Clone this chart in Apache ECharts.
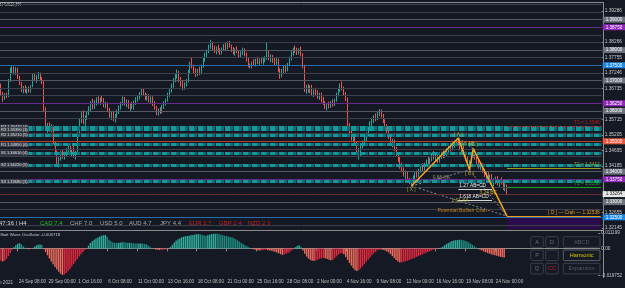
<!DOCTYPE html>
<html><head><meta charset="utf-8">
<script src="https://cdn.jsdelivr.net/npm/echarts/dist/echarts.min.js"></script>
<style>html,body{margin:0;padding:0;background:#151924;overflow:hidden}#c{width:625px;height:288px}</style>
</head><body><div id="c"></div>
<script>
const totalBars = 321;
const timeTicks = ['24 Sep 08:00','29 Sep 00:00','1 Oct 16:00','6 Oct 08:00','11 Oct 00:00','13 Oct 16:00','18 Oct 08:00','21 Oct 00:00','25 Oct 16:00','28 Oct 08:00','2 Nov 00:00','4 Nov 16:00','9 Nov 08:00','12 Nov 00:00','16 Nov 16:00','19 Nov 08:00','24 Nov 00:00'];
const priceTicks = [1.39286,1.38266,1.37755,1.37246,1.36735,1.35715,1.35205,1.34695,1.34185,1.32655,1.32145];
const gridLevels = [1.3950,1.3925,1.3900,1.3875,1.3850,1.3825,1.3800,1.3775,1.3750,1.3725,1.3700,1.3675,1.3650,1.3625,1.3600,1.3575,1.3550,1.3525,1.3500,1.3475,1.3450,1.3425,1.3400,1.3375,1.3350,1.3325,1.3300,1.3275,1.3250,1.3225];
const roundLevels = [1.39,1.38,1.37,1.36,1.34,1.33];
const purpleLevels = [1.3875,1.3625,1.3375];
const blueLevels = [1.375,1.325];
const redLevels = [1.35];
const currentPrice = 1.33264;
const zoneLevels = [1.3547,1.3539,1.3521,1.3489,1.3461,1.3422,1.3368];
const zoneTexts = ['R3 1.35470 (4)','R3 1.35390 (3)','R2 1.35210 (5)','R1 1.34890 (6)','S1 1.34610 (4)','S2 1.34220 (5)','S3 1.33680 (3)'];

const opens = [1.3678,1.3655,1.3640,1.3652,1.3648,1.3700,1.3735,1.3740,1.3728,1.3738,
1.3710,1.3690,1.3668,1.3676,1.3665,1.3672,1.3664,1.3682,1.3716,1.3705,
1.3712,1.3720,1.3704,1.3695,1.3605,1.3545,1.3552,1.3540,1.3548,1.3495,
1.3462,1.3432,1.3440,1.3462,1.3450,1.3458,1.3472,1.3484,1.3465,1.3470,
1.3452,1.3462,1.3524,1.3568,1.3590,1.3562,1.3578,1.3594,1.3608,1.3626,
1.3612,1.3630,1.3638,1.3628,1.3640,1.3636,1.3618,1.3624,1.3600,1.3585,
1.3592,1.3574,1.3584,1.3598,1.3612,1.3624,1.3640,1.3625,1.3632,1.3612,
1.3618,1.3610,1.3628,1.3640,1.3646,1.3656,1.3668,1.3655,1.3642,1.3650,
1.3634,1.3644,1.3620,1.3610,1.3592,1.3602,1.3596,1.3614,1.3626,1.3636,
1.3654,1.3666,1.3684,1.3702,1.3716,1.3728,1.3700,1.3688,1.3675,1.3690,
1.3698,1.3730,1.3756,1.3746,1.3728,1.3720,1.3732,1.3726,1.3748,1.3770,
1.3786,1.3798,1.3812,1.3822,1.3806,1.3796,1.3808,1.3800,1.3790,1.3804,
1.3814,1.3806,1.3822,1.3812,1.3800,1.3792,1.3802,1.3796,1.3782,1.3790,
1.3800,1.3786,1.3768,1.3750,1.3744,1.3758,1.3752,1.3766,1.3760,1.3768,
1.3762,1.3770,1.3774,1.3790,1.3772,1.3780,1.3764,1.3756,1.3770,1.3734,
1.3716,1.3732,1.3740,1.3734,1.3754,1.3772,1.3790,1.3802,1.3796,1.3792,
1.3800,1.3786,1.3748,1.3670,1.3680,1.3666,1.3678,1.3656,1.3664,1.3655,
1.3648,1.3654,1.3634,1.3626,1.3612,1.3618,1.3614,1.3628,1.3620,1.3636,
1.3654,1.3670,1.3684,1.3674,1.3656,1.3640,1.3552,1.3528,1.3510,1.3520,
1.3492,1.3462,1.3470,1.3482,1.3496,1.3508,1.3524,1.3540,1.3560,1.3568,
1.3580,1.3574,1.3590,1.3598,1.3584,1.3566,1.3548,1.3534,1.3514,1.3496,
1.3502,1.3474,1.3456,1.3440,1.3418,1.3406,1.3392,1.3398,1.3372,1.3366,
1.3370,1.3384,1.3392,1.3386,1.3404,1.3416,1.3408,1.3424,1.3434,1.3428,
1.3440,1.3456,1.3446,1.3452,1.3436,1.3448,1.3460,1.3452,1.3464,1.3470,
1.3480,1.3474,1.3490,1.3496,1.3500,1.3492,1.3478,1.3484,1.3460,1.3442,
1.3426,1.3432,1.3452,1.3466,1.3446,1.3430,1.3418,1.3424,1.3402,1.3390,
1.3394,1.3376,1.3384,1.3366,1.3372,1.3378,1.3362,1.3370,1.3364,1.3348,
1.3354];
const closes = [1.3655,1.3640,1.3652,1.3648,1.3700,1.3735,1.3740,1.3728,1.3738,1.3710,
1.3690,1.3668,1.3676,1.3665,1.3672,1.3664,1.3682,1.3716,1.3705,1.3712,
1.3720,1.3704,1.3695,1.3605,1.3545,1.3552,1.3540,1.3548,1.3495,1.3462,
1.3432,1.3440,1.3462,1.3450,1.3458,1.3472,1.3484,1.3465,1.3470,1.3452,
1.3462,1.3524,1.3568,1.3590,1.3562,1.3578,1.3594,1.3608,1.3626,1.3612,
1.3630,1.3638,1.3628,1.3640,1.3636,1.3618,1.3624,1.3600,1.3585,1.3592,
1.3574,1.3584,1.3598,1.3612,1.3624,1.3640,1.3625,1.3632,1.3612,1.3618,
1.3610,1.3628,1.3640,1.3646,1.3656,1.3668,1.3655,1.3642,1.3650,1.3634,
1.3644,1.3620,1.3610,1.3592,1.3602,1.3596,1.3614,1.3626,1.3636,1.3654,
1.3666,1.3684,1.3702,1.3716,1.3728,1.3700,1.3688,1.3675,1.3690,1.3698,
1.3730,1.3756,1.3746,1.3728,1.3720,1.3732,1.3726,1.3748,1.3770,1.3786,
1.3798,1.3812,1.3822,1.3806,1.3796,1.3808,1.3800,1.3790,1.3804,1.3814,
1.3806,1.3822,1.3812,1.3800,1.3792,1.3802,1.3796,1.3782,1.3790,1.3800,
1.3786,1.3768,1.3750,1.3744,1.3758,1.3752,1.3766,1.3760,1.3768,1.3762,
1.3770,1.3774,1.3790,1.3772,1.3780,1.3764,1.3756,1.3770,1.3734,1.3716,
1.3732,1.3740,1.3734,1.3754,1.3772,1.3790,1.3802,1.3796,1.3792,1.3800,
1.3786,1.3748,1.3670,1.3680,1.3666,1.3678,1.3656,1.3664,1.3655,1.3648,
1.3654,1.3634,1.3626,1.3612,1.3618,1.3614,1.3628,1.3620,1.3636,1.3654,
1.3670,1.3684,1.3674,1.3656,1.3640,1.3552,1.3528,1.3510,1.3520,1.3492,
1.3462,1.3470,1.3482,1.3496,1.3508,1.3524,1.3540,1.3560,1.3568,1.3580,
1.3574,1.3590,1.3598,1.3584,1.3566,1.3548,1.3534,1.3514,1.3496,1.3502,
1.3474,1.3456,1.3440,1.3418,1.3406,1.3392,1.3398,1.3372,1.3366,1.3370,
1.3384,1.3392,1.3386,1.3404,1.3416,1.3408,1.3424,1.3434,1.3428,1.3440,
1.3456,1.3446,1.3452,1.3436,1.3448,1.3460,1.3452,1.3464,1.3470,1.3480,
1.3474,1.3490,1.3496,1.3500,1.3492,1.3478,1.3484,1.3460,1.3442,1.3426,
1.3432,1.3452,1.3466,1.3446,1.3430,1.3418,1.3424,1.3402,1.3390,1.3394,
1.3376,1.3384,1.3366,1.3372,1.3378,1.3362,1.3370,1.3364,1.3348,1.3354,
1.3326];
const highs = [1.3690,1.3662,1.3658,1.3660,1.3705,1.3742,1.3748,1.3746,1.3744,1.3742,
1.3716,1.3695,1.3682,1.3685,1.3678,1.3680,1.3685,1.3722,1.3725,1.3718,
1.3728,1.3726,1.3712,1.3700,1.3612,1.3560,1.3562,1.3556,1.3552,1.3500,
1.3470,1.3448,1.3468,1.3474,1.3466,1.3478,1.3490,1.3492,1.3476,1.3484,
1.3468,1.3530,1.3575,1.3598,1.3602,1.3585,1.3600,1.3615,1.3632,1.3640,
1.3636,1.3645,1.3648,1.3644,1.3650,1.3642,1.3630,1.3628,1.3610,1.3598,
1.3600,1.3590,1.3604,1.3618,1.3630,1.3648,1.3646,1.3638,1.3636,1.3624,
1.3630,1.3634,1.3645,1.3652,1.3662,1.3676,1.3674,1.3660,1.3656,1.3655,
1.3648,1.3648,1.3632,1.3616,1.3608,1.3612,1.3620,1.3632,1.3640,1.3660,
1.3672,1.3690,1.3708,1.3722,1.3736,1.3732,1.3712,1.3700,1.3694,1.3705,
1.3735,1.3762,1.3775,1.3752,1.3740,1.3738,1.3745,1.3752,1.3775,1.3792,
1.3802,1.3818,1.3834,1.3828,1.3815,1.3812,1.3818,1.3806,1.3808,1.3820,
1.3826,1.3828,1.3830,1.3818,1.3810,1.3806,1.3812,1.3800,1.3796,1.3808,
1.3806,1.3792,1.3776,1.3756,1.3762,1.3770,1.3772,1.3778,1.3772,1.3776,
1.3774,1.3780,1.3826,1.3798,1.3786,1.3784,1.3776,1.3774,1.3772,1.3740,
1.3738,1.3748,1.3752,1.3758,1.3778,1.3796,1.3808,1.3815,1.3808,1.3806,
1.3812,1.3790,1.3752,1.3686,1.3688,1.3684,1.3686,1.3670,1.3676,1.3668,
1.3660,1.3660,1.3646,1.3632,1.3624,1.3630,1.3632,1.3638,1.3640,1.3660,
1.3676,1.3690,1.3697,1.3680,1.3662,1.3644,1.3560,1.3540,1.3528,1.3526,
1.3500,1.3478,1.3488,1.3502,1.3516,1.3530,1.3548,1.3566,1.3578,1.3586,
1.3592,1.3596,1.3606,1.3604,1.3590,1.3572,1.3556,1.3540,1.3522,1.3508,
1.3506,1.3482,1.3464,1.3448,1.3430,1.3414,1.3404,1.3402,1.3380,1.3378,
1.3388,1.3398,1.3404,1.3410,1.3422,1.3428,1.3430,1.3440,1.3450,1.3446,
1.3462,1.3468,1.3460,1.3458,1.3454,1.3466,1.3470,1.3468,1.3478,1.3486,
1.3490,1.3496,1.3502,1.3506,1.3511,1.3500,1.3490,1.3488,1.3466,1.3450,
1.3438,1.3458,1.3476,1.3472,1.3452,1.3440,1.3432,1.3428,1.3410,1.3400,
1.3398,1.3390,1.3392,1.3378,1.3384,1.3386,1.3376,1.3382,1.3372,1.3362,
1.3358];
const lows = [1.3652,1.3630,1.3636,1.3642,1.3645,1.3695,1.3722,1.3720,1.3718,1.3705,
1.3685,1.3662,1.3658,1.3660,1.3656,1.3660,1.3660,1.3678,1.3700,1.3692,
1.3705,1.3698,1.3688,1.3598,1.3535,1.3528,1.3532,1.3530,1.3490,1.3455,
1.3425,1.3414,1.3436,1.3442,1.3440,1.3450,1.3462,1.3458,1.3450,1.3446,
1.3440,1.3458,1.3518,1.3560,1.3556,1.3548,1.3570,1.3586,1.3600,1.3605,
1.3606,1.3618,1.3622,1.3620,1.3630,1.3612,1.3608,1.3596,1.3578,1.3570,
1.3566,1.3562,1.3578,1.3590,1.3604,1.3618,1.3618,1.3612,1.3606,1.3600,
1.3606,1.3604,1.3620,1.3630,1.3638,1.3648,1.3650,1.3636,1.3634,1.3628,
1.3626,1.3616,1.3604,1.3586,1.3584,1.3590,1.3592,1.3606,1.3618,1.3630,
1.3646,1.3660,1.3676,1.3694,1.3706,1.3694,1.3680,1.3668,1.3670,1.3680,
1.3694,1.3724,1.3740,1.3722,1.3712,1.3714,1.3718,1.3720,1.3742,1.3762,
1.3776,1.3790,1.3804,1.3800,1.3790,1.3786,1.3792,1.3784,1.3786,1.3798,
1.3800,1.3802,1.3808,1.3794,1.3786,1.3782,1.3790,1.3776,1.3776,1.3784,
1.3780,1.3762,1.3744,1.3740,1.3740,1.3748,1.3746,1.3754,1.3750,1.3756,
1.3752,1.3760,1.3768,1.3766,1.3760,1.3758,1.3750,1.3752,1.3728,1.3706,
1.3710,1.3720,1.3726,1.3730,1.3748,1.3766,1.3782,1.3790,1.3784,1.3786,
1.3780,1.3740,1.3662,1.3656,1.3660,1.3658,1.3650,1.3646,1.3650,1.3640,
1.3636,1.3628,1.3620,1.3606,1.3602,1.3608,1.3610,1.3614,1.3616,1.3630,
1.3648,1.3662,1.3668,1.3650,1.3632,1.3545,1.3520,1.3502,1.3498,1.3486,
1.3456,1.3440,1.3452,1.3476,1.3488,1.3500,1.3516,1.3534,1.3548,1.3560,
1.3566,1.3570,1.3582,1.3578,1.3560,1.3540,1.3528,1.3508,1.3490,1.3480,
1.3468,1.3450,1.3432,1.3410,1.3398,1.3384,1.3376,1.3366,1.3360,1.3353,
1.3362,1.3374,1.3380,1.3382,1.3396,1.3400,1.3404,1.3416,1.3422,1.3420,
1.3434,1.3440,1.3436,1.3428,1.3430,1.3442,1.3444,1.3446,1.3452,1.3462,
1.3466,1.3470,1.3478,1.3484,1.3486,1.3470,1.3464,1.3454,1.3436,1.3420,
1.3406,1.3428,1.3446,1.3440,1.3424,1.3410,1.3406,1.3396,1.3382,1.3374,
1.3370,1.3364,1.3360,1.3352,1.3360,1.3356,1.3348,1.3358,1.3340,1.3336,
1.3322];
const ewo = [-0.0090,-0.0096,-0.0090,-0.0076,-0.0056,-0.0034,-0.0012,0.0008,0.0022,0.0033,
0.0037,0.0030,0.0016,0.0004,-0.0003,-0.0006,-0.0004,0.0002,0.0012,0.0021,
0.0027,0.0028,0.0024,-0.0006,-0.0026,-0.0050,-0.0074,-0.0096,-0.0116,-0.0136,
-0.0154,-0.0170,-0.0184,-0.0194,-0.0190,-0.0180,-0.0166,-0.0150,-0.0132,-0.0114,
-0.0096,-0.0078,-0.0060,-0.0042,-0.0026,-0.0012,-0.0002,0.0020,0.0040,0.0052,
0.0063,0.0072,0.0080,0.0086,0.0092,0.0096,0.0098,0.0084,0.0063,0.0052,
0.0045,0.0040,0.0039,0.0040,0.0043,0.0045,0.0044,0.0042,0.0040,0.0041,
0.0040,0.0038,0.0036,0.0035,0.0035,0.0036,0.0035,0.0033,0.0030,0.0022,
0.0012,0.0003,-0.0004,-0.0008,-0.0010,-0.0012,-0.0012,-0.0010,-0.0008,-0.0004,
-0.0001,0.0012,0.0026,0.0042,0.0057,0.0066,0.0074,0.0081,0.0085,0.0088,
0.0090,0.0092,0.0095,0.0098,0.0101,0.0103,0.0104,0.0102,0.0098,0.0094,
0.0092,0.0096,0.0101,0.0104,0.0106,0.0107,0.0106,0.0104,0.0100,0.0096,
0.0092,0.0089,0.0086,0.0083,0.0081,0.0074,0.0066,0.0057,0.0049,0.0040,
0.0031,0.0023,0.0015,0.0008,0.0001,-0.0005,-0.0009,-0.0012,-0.0014,-0.0015,
-0.0014,-0.0012,-0.0010,-0.0012,-0.0015,-0.0018,-0.0021,-0.0024,-0.0030,-0.0036,
-0.0042,-0.0047,-0.0045,-0.0040,-0.0033,-0.0024,-0.0014,-0.0005,0.0008,0.0018,
0.0023,0.0012,-0.0015,-0.0040,-0.0060,-0.0074,-0.0084,-0.0090,-0.0092,-0.0088,
-0.0082,-0.0076,-0.0072,-0.0070,-0.0072,-0.0078,-0.0083,-0.0086,-0.0084,-0.0070,
-0.0058,-0.0046,-0.0038,-0.0036,-0.0042,-0.0062,-0.0084,-0.0106,-0.0126,-0.0144,
-0.0160,-0.0164,-0.0158,-0.0146,-0.0130,-0.0114,-0.0098,-0.0082,-0.0066,-0.0050,
-0.0036,-0.0024,-0.0014,-0.0010,-0.0010,-0.0012,-0.0016,-0.0022,-0.0030,-0.0042,
-0.0056,-0.0070,-0.0084,-0.0096,-0.0103,-0.0102,-0.0098,-0.0094,-0.0090,-0.0086,
-0.0080,-0.0074,-0.0068,-0.0062,-0.0056,-0.0050,-0.0044,-0.0038,-0.0032,-0.0026,
-0.0020,-0.0015,-0.0010,-0.0006,-0.0003,-0.0001,0.0004,0.0012,0.0022,0.0032,
0.0040,0.0047,0.0053,0.0057,0.0060,0.0062,0.0063,0.0062,0.0059,0.0055,
0.0050,0.0043,0.0035,0.0026,0.0016,0.0006,-0.0003,-0.0010,-0.0016,-0.0022,
-0.0028,-0.0033,-0.0038,-0.0042,-0.0046,-0.0050,-0.0054,-0.0058,-0.0061,-0.0064,
-0.006718];

const patternNames = ['X','A','B','C','D'];
const patternTimes = ['12 Nov 08:00','18 Nov 12:00','19 Nov 12:00','19 Nov 20:00','24 Nov 20:00'];
const patternPrices = [1.3353,1.3511,1.3406,1.3476,1.32538];
const patternLinks = [['X','B','0.66 XA','#bdb77a'],['X','D','1.61 XA','#d8d030'],['B','D','3.24 BC','#d8d030'],['A','C','0.66 AB','#b8b040']];
const abcdLevels = [1.3342,1.3305];
const abcdTexts = ['1.27 AB=CD','1.618 AB=CD'];
const abcdEnd = '23 Nov 12:00';
const targetLevels = [1.3550,1.3412,1.3350];
const targetTexts = ['T3 = 1.3546','T2 = 1.3412','T1 = 1.3350'];
const targetColors = ['#b02020','#9a9a20','#20a020'];
const currencies = ['CAD 7.4','CHF 7.0','USD 5.0','AUD 4.7','JPY 4.4','EUR 2.7','GBP 2.4','NZD 2.3'];
const currencyColors = ['#22c022','#a8a8a8','#a8a8a8','#a8a8a8','#a8a8a8','#d01c1c','#d01c1c','#d01c1c'];

// categories (H4 bars, Mon-Fri)
const months = ['Jan','Feb','Mar','Apr','May','Jun','Jul','Aug','Sep','Oct','Nov','Dec'];
const times = [];
for (let t = Date.UTC(2021, 8, 22, 20); times.length < totalBars; t += 4 * 3600 * 1000) {
  const d = new Date(t), wd = d.getUTCDay();
  if (wd === 0 || wd === 6) continue;
  times.push(d.getUTCDate() + ' ' + months[d.getUTCMonth()] + ' ' + String(d.getUTCHours()).padStart(2, '0') + ':00');
}
const tickFn = (i, v) => timeTicks.indexOf(v) >= 0;
const FONT = 'Liberation Sans';
const PREC = 6;

const has = (arr, v) => arr.some(a => Math.abs(a - v) < 1e-7);
const levelLines = gridLevels.map(v => {
  let color = '#3c404a', box = null, txt = '#fff';
  if (has(roundLevels, v)) { color = '#565a64'; box = '#6e727c'; }
  if (has(purpleLevels, v)) { color = '#642b8a'; box = '#9027b8'; }
  if (has(blueLevels, v)) { color = '#2a6aa8'; box = '#1e88e5'; }
  if (has(redLevels, v)) { color = '#b0442e'; box = '#e8583a'; }
  return {
    yAxis: v, lineStyle: { color, width: 1, type: 'solid' },
    label: box ? { show: true, position: 'end', distance: 1, formatter: v.toFixed(5), backgroundColor: box, color: txt, fontSize: 4.6, padding: [0.5, 3], fontFamily: FONT } : { show: false }
  };
});
levelLines.push({ yAxis: currentPrice, lineStyle: { color: '#8e1d1d', type: [2, 2], width: 1 },
  label: { show: true, position: 'end', distance: 1, formatter: currentPrice.toFixed(5), backgroundColor: '#e6e6e6', color: '#222', fontSize: 4.6, padding: [0.5, 3], fontFamily: FONT } });

const zoneLines = [];
zoneLevels.forEach((v, i) => {
  zoneLines.push({ yAxis: v, lineStyle: { color: '#14999c', width: 3, type: [6, 3], dashOffset: 0 },
    label: { show: true, position: 'insideStart', distance: 0, formatter: zoneTexts[i], color: '#e2e2e2', backgroundColor: '#3a3e48', fontSize: 4, padding: [0.5, 1], fontFamily: FONT } });
  zoneLines.push({ yAxis: v, lineStyle: { color: '#0f6f74', width: 3, type: [3, 6], dashOffset: 4 }, label: { show: false } });
});

const idx = t => times.indexOf(t);
const pIndex = n => patternNames.indexOf(n);
const ptAt = n => [patternTimes[pIndex(n)], patternPrices[pIndex(n)]];

const series = [];
series.push({ type: 'line', xAxisIndex: 0, yAxisIndex: 0, data: [], silent: true, z: 1,
  markLine: { silent: true, symbol: 'none', animation: false, precision: PREC, data: levelLines } });
series.push({ type: 'line', xAxisIndex: 0, yAxisIndex: 0, data: [], silent: true, z: 2,
  markLine: { silent: true, symbol: 'none', animation: false, precision: PREC, data: zoneLines } });
// D zone
series.push({ type: 'line', xAxisIndex: 0, yAxisIndex: 0, data: [], silent: true, z: 2,
  markArea: { silent: true, precision: PREC, itemStyle: { color: '#2b0b4c' }, data: [[{ xAxis: patternTimes[4], yAxis: patternPrices[4] }, { xAxis: times[times.length - 1], yAxis: 1.3200 }]] } });
// candles
series.push({ type: 'candlestick', xAxisIndex: 0, yAxisIndex: 0, z: 3, barWidth: 1.3,
  data: opens.map((o, i) => [o, closes[i], lows[i], highs[i]]),
  itemStyle: { color: '#26a69a', color0: '#ef5350', borderColor: '#26a69a', borderColor0: '#ef5350', borderWidth: 1 } });
// dotted pattern links
patternLinks.forEach(l => {
  series.push({ type: 'line', xAxisIndex: 0, yAxisIndex: 0, z: 4, symbol: 'none', silent: true,
    data: [ptAt(l[0]), ptAt(l[1])], lineStyle: { color: '#8d8f96', width: 1, type: [2, 2] } });
});
// pattern polyline
series.push({ type: 'line', xAxisIndex: 0, yAxisIndex: 0, z: 5, symbol: 'none', silent: true,
  data: patternNames.map(ptAt), lineStyle: { color: '#f5a623', width: 1.5 } });
// AB=CD and targets, D line
series.push({ type: 'line', xAxisIndex: 0, yAxisIndex: 0, data: [], z: 5, silent: true,
  markLine: { silent: true, symbol: 'none', animation: false, precision: PREC, data:
    abcdLevels.map((v, i) => [
      { coord: [patternTimes[1], v], lineStyle: { color: '#d6d6d6', width: 1, type: 'solid' },
        label: { show: true, position: 'insideStartTop', formatter: abcdTexts[i], color: '#e8e8e8', fontSize: 4.8, fontFamily: FONT, distance: 1 } },
      { coord: [abcdEnd, v] }])
    .concat(targetLevels.map((v, i) => [
      { coord: [patternTimes[4], v], lineStyle: { color: targetColors[i], width: 1, type: i === 0 ? [3, 2] : 'solid' },
        label: { show: true, position: 'insideEndTop', formatter: targetTexts[i], color: targetColors[i], fontSize: 4.8, fontFamily: FONT, distance: 1 } },
      { coord: [times[times.length - 1], v] }]))
    .concat([[
      { coord: [patternTimes[4], patternPrices[4]], lineStyle: { color: '#e89a1a', width: 1, type: 'solid' },
        label: { show: true, position: 'insideEndTop', formatter: '[ D ] \u2014 Crab \u2014 ' + patternPrices[4].toFixed(5), color: '#e89a1a', fontSize: 4.8, fontFamily: FONT, distance: 1 } },
      { coord: [times[times.length - 1], patternPrices[4]] }]])
  } });
// point labels + ratio labels
const pointLabelPos = { X: 'bottom', A: 'top', B: 'bottom', C: 'top', D: 'right' };
const labelData = patternNames.filter(n => n !== 'D').map(n => ({
  value: [idx(ptAt(n)[0]), ptAt(n)[1]],
  label: { show: true, position: pointLabelPos[n], distance: 1, formatter: '[ ' + n + ' ]', color: '#d8c232', fontSize: 4.8, fontFamily: FONT }
}));
patternLinks.forEach(l => {
  const a = ptAt(l[0]), b = ptAt(l[1]);
  labelData.push({ value: [Math.round((idx(a[0]) + idx(b[0])) / 2), (a[1] + b[1]) / 2],
    label: { show: true, position: 'inside', formatter: l[2], color: l[3], fontSize: 4.8, fontFamily: FONT } });
});
labelData.push({ value: [idx(patternTimes[4]), patternPrices[4]],
  label: { show: true, position: 'left', distance: 20, offset: [0, -6], formatter: 'Potential Bullish Crab', color: '#e89a1a', fontSize: 5.2, fontFamily: FONT } });
series.push({ type: 'scatter', xAxisIndex: 0, yAxisIndex: 0, z: 6, symbolSize: 0, silent: true, data: labelData });
// oscillator
series.push({ type: 'bar', xAxisIndex: 1, yAxisIndex: 1, barWidth: '75%', silent: true,
  data: ewo.map((v, i) => {
    const prev = i > 0 ? ewo[i - 1] : v;
    const rising = v >= prev;
    const color = v >= 0 ? (rising ? '#2fae9e' : '#1f8c80') : (rising ? '#e0283f' : '#f26a5c');
    return { value: v, itemStyle: { color } };
  }) });

const graphics = [
  { type: 'line', shape: { x1: 0, y1: 2.5, x2: 603, y2: 2.5 }, style: { stroke: '#8c8c8c', lineWidth: 1 }, silent: true },
  { type: 'line', shape: { x1: 0, y1: 230.5, x2: 603, y2: 230.5 }, style: { stroke: '#8c8c8c', lineWidth: 1 }, silent: true },
  { type: 'line', shape: { x1: 603.5, y1: 2, x2: 603.5, y2: 278 }, style: { stroke: '#8c8c8c', lineWidth: 1 }, silent: true },
  { type: 'text', left: -5, top: 2, style: { text: 'GBPUSD,H4', fill: '#c8c8c8', font: '4.6px ' + FONT }, silent: true },
  { type: 'text', left: -1, top: 220.5, style: { text: '47:36 | H4', fill: '#d8d8d8', font: '6px ' + FONT }, silent: true },
  { type: 'text', left: -2, top: 232.5, style: { text: 'Elliott Wave Oscillator -0.006718', fill: '#c8c8c8', font: '4.3px ' + FONT }, silent: true },
  { type: 'text', left: -13, top: 280, style: { text: '22 Sep 2021', fill: '#c0c0c0', font: '4.6px ' + FONT }, silent: true }
];
const curX = [40, 70, 100, 129, 160, 189, 219, 248];
currencies.forEach((c, i) => graphics.push({ type: 'text', left: curX[i], top: 220.5, style: { text: c, fill: currencyColors[i], font: '6px ' + FONT }, silent: true }));
const buttons = [
  ['A', 530.7, 236.7, 12.6, '#6a6e78'], ['D', 545.7, 236.7, 12.6, '#6a6e78'], ['ABCD', 563.3, 236.7, 36.7, '#555a64'],
  ['P', 530.7, 250, 12.6, '#6a6e78'], ['', 545.7, 250, 12.6, '#6a6e78'], ['Harmonic', 563.3, 250, 36.7, '#d8c400'],
  ['Q', 530.7, 263.3, 12.6, '#6a6e78'], ['CC', 545.7, 263.3, 12.6, '#c81e1e'], ['Expansion', 563.3, 263.3, 36.7, '#555a64']
];
buttons.forEach(b => {
  graphics.push({ type: 'rect', shape: { x: b[1], y: b[2], width: b[3], height: 10.6, r: 1 }, style: { fill: '#161a24', stroke: b[0] === 'Harmonic' ? '#5a5e68' : '#3a3e48', lineWidth: 1 }, silent: true });
  if (b[0]) graphics.push({ type: 'text', x: b[1] + b[3] / 2, y: b[2] + 5.5, style: { text: b[0], fill: b[4], font: '5.6px ' + FONT, textAlign: 'center', textVerticalAlign: 'middle' }, silent: true });
});

const option = {
  backgroundColor: '#151924',
  animation: false,
  textStyle: { fontFamily: FONT },
  grid: [
    { left: 0, right: 22, top: 2, height: 227 },
    { left: 0, right: 22, top: 233, height: 42.5 }
  ],
  xAxis: [
    { type: 'category', data: times, gridIndex: 0, boundaryGap: true, axisLine: { show: false }, axisTick: { show: false }, axisLabel: { show: false }, splitLine: { show: false } },
    { type: 'category', data: times, gridIndex: 1, boundaryGap: true, offset: 2,
      axisLine: { lineStyle: { color: '#8c8c8c' } },
      axisTick: { show: true, alignWithLabel: true, interval: tickFn, length: 3, lineStyle: { color: '#8c8c8c' } },
      axisLabel: { interval: tickFn, align: 'left', fontSize: 4.6, color: '#c0c0c0', margin: 2, padding: [0, 0, 0, 1], fontFamily: FONT },
      splitLine: { show: false } }
  ],
  yAxis: [
    { type: 'value', gridIndex: 0, position: 'right', min: 1.32115, max: 1.39582, scale: true,
      splitLine: { show: false }, axisLine: { show: false },
      axisTick: { show: true, customValues: priceTicks, length: 2, lineStyle: { color: '#8c8c8c' } },
      axisLabel: { customValues: priceTicks, formatter: v => v.toFixed(5), fontSize: 4.8, color: '#c8c8c8', margin: 3, fontFamily: FONT } },
    { type: 'value', gridIndex: 1, position: 'right', min: -0.019752, max: 0.011199,
      splitLine: { show: false }, axisLine: { show: false },
      axisTick: { show: true, customValues: [0.011199, 0, -0.019752], length: 2, lineStyle: { color: '#8c8c8c' } },
      axisLabel: { customValues: [0.011199, 0, -0.019752], formatter: v => (v === 0 ? '0.00' : v.toFixed(6)), fontSize: 4.6, color: '#c8c8c8', margin: 3, fontFamily: FONT } }
  ],
  series,
  graphic: graphics
};
const chart = echarts.init(document.getElementById('c'), null, { renderer: 'canvas' });
chart.setOption(option);
</script></body></html>
